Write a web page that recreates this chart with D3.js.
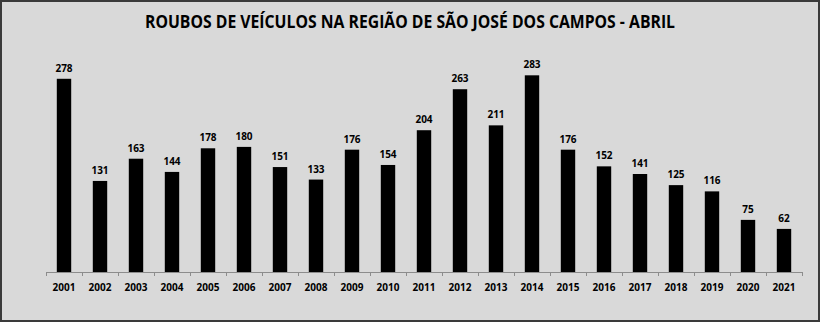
<!DOCTYPE html>
<html>
<head>
<meta charset="utf-8">
<script src="https://cdn.jsdelivr.net/npm/d3@7"></script>
<style>
  html, body { margin: 0; padding: 0; background: #fff; }
  svg { display: block; }
</style>
</head>
<body>
<svg id="chart" width="820" height="322"></svg>
<script>
const years = ["2001","2002","2003","2004","2005","2006","2007","2008","2009","2010","2011",
               "2012","2013","2014","2015","2016","2017","2018","2019","2020","2021"];
const thefts = [278,131,163,144,178,180,151,133,176,154,204,263,211,283,176,152,141,125,116,75,62];
const chartTitle = "ROUBOS DE VEÍCULOS NA REGIÃO DE SÃO JOSÉ DOS CAMPOS - ABRIL";

const W = 820, H = 322;
const svg = d3.select("#chart");

// panel background and frame
svg.append("rect").attr("x", 0).attr("y", 0).attr("width", W).attr("height", H).attr("fill", "#d9d9d9");
svg.append("rect").attr("x", 1).attr("y", 1).attr("width", W - 2).attr("height", H - 2)
  .attr("fill", "none").attr("stroke", "#3a3a3a").attr("stroke-width", 2);

svg.append("text")
  .attr("x", 410).attr("y", 28)
  .attr("text-anchor", "middle")
  .attr("font-family", "'Open Sans', 'Liberation Sans', sans-serif")
  .attr("font-weight", "bold")
  .attr("font-size", 17)
  .attr("textLength", 530).attr("lengthAdjust", "spacingAndGlyphs")
  .attr("fill", "#000")
  .text(chartTitle);

const plot = { left: 46, right: 802, base: 272 };
const x = d3.scaleBand().domain(years).range([plot.left, plot.right]).paddingInner(0.6).paddingOuter(0.3);
const y = d3.scaleLinear().domain([0, 300]).range([plot.base, plot.base - 300 * 0.695]);

// category axis with boundary ticks
const axisG = svg.append("g");
axisG.append("line").attr("x1", plot.left).attr("x2", plot.right)
  .attr("y1", plot.base + 0.5).attr("y2", plot.base + 0.5)
  .attr("stroke", "#8c8c8c").attr("stroke-width", 1);
const step = (plot.right - plot.left) / years.length;
d3.range(years.length + 1).forEach(i => {
  const xi = Math.round(plot.left + i * step) + 0.5;
  axisG.append("line").attr("x1", xi).attr("x2", xi)
    .attr("y1", plot.base).attr("y2", plot.base + 4)
    .attr("stroke", "#8c8c8c").attr("stroke-width", 1);
});

const data = years.map((yr, i) => ({ yr, v: thefts[i] }));

svg.append("g").selectAll("rect").data(data).join("rect")
  .attr("x", d => x(d.yr))
  .attr("width", x.bandwidth())
  .attr("y", d => y(d.v))
  .attr("height", d => y(0) - y(d.v))
  .attr("fill", "#000");

svg.append("g").selectAll("text").data(data).join("text")
  .attr("x", d => x(d.yr) + x.bandwidth() / 2)
  .attr("y", d => y(d.v) - 7)
  .attr("text-anchor", "middle")
  .attr("font-family", "'Open Sans', 'Liberation Sans', sans-serif")
  .attr("font-weight", "bold")
  .attr("font-size", 10)
  .attr("fill", "#000")
  .text(d => d.v);

svg.append("g").selectAll("text").data(data).join("text")
  .attr("x", d => x(d.yr) + x.bandwidth() / 2)
  .attr("y", plot.base + 19)
  .attr("text-anchor", "middle")
  .attr("font-family", "'Open Sans', 'Liberation Sans', sans-serif")
  .attr("font-weight", "bold")
  .attr("font-size", 10)
  .attr("fill", "#000")
  .text(d => d.yr);
</script>
</body>
</html>
